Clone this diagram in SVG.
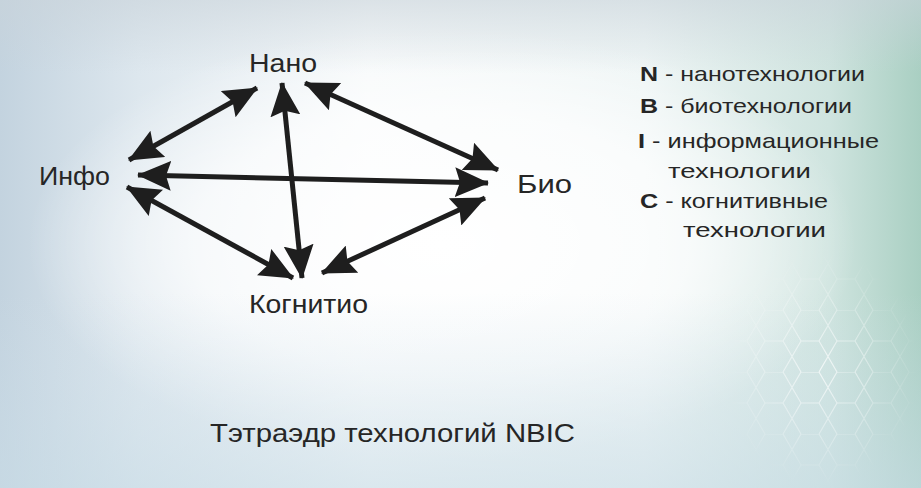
<svg xmlns="http://www.w3.org/2000/svg" width="921" height="488" viewBox="0 0 921 488">
<defs>
<linearGradient id="bgH" x1="0" y1="0" x2="1" y2="0">
<stop offset="0" stop-color="#c3d3df"/>
<stop offset="0.15" stop-color="#dde7ee"/>
<stop offset="0.4" stop-color="#f6f9fa"/>
<stop offset="0.7" stop-color="#eef5f5"/>
<stop offset="0.9" stop-color="#cfe4df"/>
<stop offset="1" stop-color="#a9cfc2"/>
</linearGradient>
<radialGradient id="glow" cx="0.48" cy="0.5" r="0.45">
<stop offset="0" stop-color="#ffffff" stop-opacity="1"/>
<stop offset="0.6" stop-color="#ffffff" stop-opacity="0.7"/>
<stop offset="1" stop-color="#ffffff" stop-opacity="0"/>
</radialGradient>
<linearGradient id="bottom" x1="0" y1="0" x2="0" y2="1">
<stop offset="0.6" stop-color="#d0e0ea" stop-opacity="0"/>
<stop offset="1" stop-color="#c8dce6" stop-opacity="0.6"/>
</linearGradient>
<linearGradient id="top" x1="0" y1="0" x2="0" y2="1">
<stop offset="0" stop-color="#c9d3da" stop-opacity="0.6"/>
<stop offset="0.15" stop-color="#c9d3da" stop-opacity="0"/>
</linearGradient>
<marker id="ah" viewBox="0 0 34 30" refX="33" refY="15" markerWidth="34" markerHeight="30" markerUnits="userSpaceOnUse" orient="auto-start-reverse">
<path d="M0,0 L34,15 L0,30 L5,15 Z" fill="#1e1e1e"/>
</marker>
<pattern id="hex" width="36" height="62" patternUnits="userSpaceOnUse">
<path d="M9,0 L27,0 L36,15.5 L27,31 L9,31 L0,15.5 Z M27,31 L36,46.5 L27,62 M9,31 L0,46.5 L9,62" fill="none" stroke="#ffffff" stroke-width="1.2" stroke-opacity="0.7"/>
</pattern>
<radialGradient id="hexmask" cx="0.5" cy="0.5" r="0.5">
<stop offset="0" stop-color="#fff" stop-opacity="1"/>
<stop offset="1" stop-color="#fff" stop-opacity="0"/>
</radialGradient>
<mask id="hm"><rect x="720" y="250" width="201" height="238" fill="url(#hexmask)"/></mask>
</defs>
<style>
.lbl{font-family:"Liberation Sans",Arial,sans-serif;font-size:26px;fill:#262626}
.leg{font-family:"Liberation Sans",Arial,sans-serif;font-size:21px;fill:#262626}
.b{font-weight:bold}
.con{stroke:#1e1e1e;stroke-width:5;fill:none;marker-start:url(#ah);marker-end:url(#ah)}
</style>
<rect width="921" height="488" fill="url(#bgH)"/>
<rect width="921" height="488" fill="url(#glow)"/>
<rect width="921" height="488" fill="url(#bottom)"/>
<rect width="921" height="488" fill="url(#top)"/>
<rect x="720" y="250" width="201" height="238" fill="url(#hex)" mask="url(#hm)"/>

<g id="connectors">
<line class="con" x1="129" y1="160" x2="257" y2="88"/>
<line class="con" x1="305" y1="83" x2="498" y2="170"/>
<line class="con" x1="282" y1="83" x2="302" y2="278"/>
<line class="con" x1="138" y1="175" x2="488" y2="183"/>
<line class="con" x1="127" y1="187" x2="293" y2="278"/>
<line class="con" x1="322" y1="273" x2="485" y2="198"/>
</g>

<g id="nano"><text class="lbl" x="249" y="72" textLength="68" lengthAdjust="spacingAndGlyphs">Нано</text></g>
<g id="info"><text class="lbl" x="39" y="185" textLength="71" lengthAdjust="spacingAndGlyphs">Инфо</text></g>
<g id="bio"><text class="lbl" x="517" y="193" textLength="55" lengthAdjust="spacingAndGlyphs">Био</text></g>
<g id="cognitio"><text class="lbl" x="249" y="313" textLength="119" lengthAdjust="spacingAndGlyphs">Когнитио</text></g>

<g id="legend">
<text class="leg" x="640" y="81" textLength="225" lengthAdjust="spacingAndGlyphs"><tspan class="b">N</tspan> - нанотехнологии</text>
<text class="leg" x="640" y="113" textLength="212" lengthAdjust="spacingAndGlyphs"><tspan class="b">B</tspan> - биотехнологии</text>
<text class="leg" x="638" y="148" textLength="241" lengthAdjust="spacingAndGlyphs"><tspan class="b">I</tspan> - информационные</text>
<text class="leg" x="668" y="178" textLength="143" lengthAdjust="spacingAndGlyphs">технологии</text>
<text class="leg" x="640" y="208" textLength="188" lengthAdjust="spacingAndGlyphs"><tspan class="b">C</tspan> - когнитивные</text>
<text class="leg" x="683" y="237" textLength="143" lengthAdjust="spacingAndGlyphs">технологии</text>
</g>

<g id="title"><text class="lbl" x="210" y="442" textLength="365" lengthAdjust="spacingAndGlyphs">Тэтраэдр технологий NBIC</text></g>
</svg>
